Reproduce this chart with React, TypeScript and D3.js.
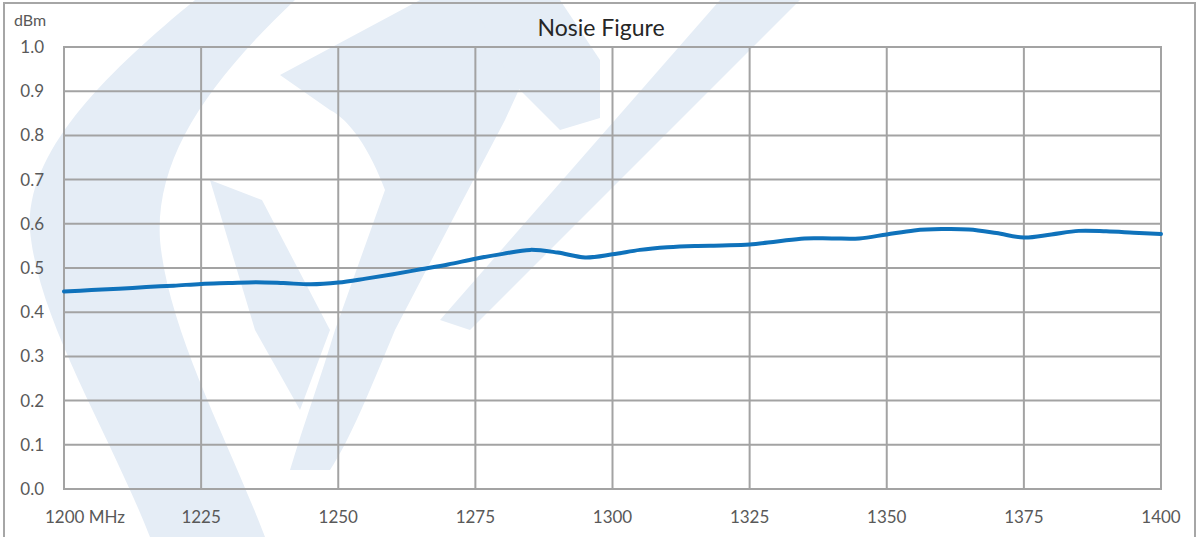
import React from 'react';
import * as d3 from 'd3';

const freqs = [1200, 1205, 1210, 1215, 1220, 1225, 1230, 1235, 1240, 1245, 1250,
  1255, 1260, 1265, 1270, 1275, 1280, 1285, 1290, 1295, 1300,
  1305, 1310, 1315, 1320, 1325, 1330, 1335, 1340, 1345, 1350,
  1355, 1360, 1365, 1370, 1375, 1380, 1385, 1390, 1395, 1400];
const noise = [0.447, 0.450, 0.453, 0.457, 0.460, 0.464, 0.466, 0.468, 0.466, 0.463, 0.467,
  0.476, 0.486, 0.497, 0.508, 0.521, 0.532, 0.541, 0.535, 0.524, 0.531,
  0.541, 0.547, 0.550, 0.551, 0.553, 0.560, 0.567, 0.567, 0.567, 0.576,
  0.585, 0.588, 0.587, 0.579, 0.569, 0.576, 0.584, 0.583, 0.580, 0.577];
const xTicks = [1200, 1225, 1250, 1275, 1300, 1325, 1350, 1375, 1400];
const yTicks = [0, 0.1, 0.2, 0.3, 0.4, 0.5, 0.6, 0.7, 0.8, 0.9, 1.0];

const width = 1201;
const height = 537;
const margin = { left: 64, right: 40, top: 47, bottom: 48 };

// light logo watermark behind the chart
const watermark = [
  'M195,0 L295,0 C205,85 155,160 160,240 C168,330 228,440 265,537 L150,537 C108,430 38,320 30,230 C25,150 110,70 195,0 Z',
  'M280,75 L420,0 L560,0 L505,120 L455,215 L395,330 C370,390 350,440 330,470 L290,470 C305,420 320,380 335,330 L385,190 C370,150 350,120 330,110 Z',
  'M472,0 L560,0 L600,60 L600,118 L560,130 L510,80 Z',
  'M720,0 L800,0 L600,200 L470,330 L440,320 L580,160 Z',
  'M210,180 L262,200 L330,330 L300,410 L255,330 Z'
];

export default function App() {
  const x = d3.scaleLinear().domain([1200, 1400]).range([margin.left, width - margin.right]);
  const y = d3.scaleLinear().domain([0, 1]).range([height - margin.bottom, margin.top]);

  const line = d3.line<number>()
    .x((d, i) => x(freqs[i]))
    .y(d => y(d))
    .curve(d3.curveCatmullRom.alpha(0.5));

  const font = 'Lato, "Open Sans", sans-serif';
  const grid = '#a3a3a3';

  return (
    <svg width={width} height={height} style={{ position: 'absolute', left: 0, top: 0 }}>
      <rect x={0} y={0} width={width} height={height} fill="#fff" />
      <g fill="#e5edf6">
        {watermark.map((d, i) => <path key={i} d={d} />)}
      </g>
      <rect x={4} y={3} width={1191} height={545} fill="none" stroke="#a6a6a6" strokeWidth={2} />

      {yTicks.map(t => (
        <g key={'y' + t}>
          <line x1={x(1200)} x2={x(1400)} y1={y(t)} y2={y(t)} stroke={grid} strokeWidth={2} />
          <text x={44} y={y(t)} dy="0.35em" textAnchor="end" fontFamily={font} fontSize={17} fill="#595959">
            {t.toFixed(1)}
          </text>
        </g>
      ))}
      {xTicks.map((t, i) => (
        <g key={'x' + t}>
          <line x1={x(t)} x2={x(t)} y1={y(0)} y2={y(1)} stroke={grid} strokeWidth={2} />
          <text x={i === 0 ? x(t) - 19 : x(t)} y={523} textAnchor={i === 0 ? 'start' : 'middle'}
                fontFamily={font} fontSize={17} fill="#595959">
            {i === 0 ? t + ' MHz' : t}
          </text>
        </g>
      ))}
      <rect x={x(1200)} y={y(1)} width={x(1400) - x(1200)} height={y(0) - y(1)}
            fill="none" stroke={grid} strokeWidth={2} />

      <path d={line(noise) || ''} fill="none" stroke="#0f72bb" strokeWidth={4} strokeLinecap="round" />

      <text x={14} y={26} fontFamily={font} fontSize={16} fill="#595959">dBm</text>
      <text x={601} y={36} textAnchor="middle" fontFamily={font} fontSize={23} fill="#262626">Nosie Figure</text>
    </svg>
  );
}
